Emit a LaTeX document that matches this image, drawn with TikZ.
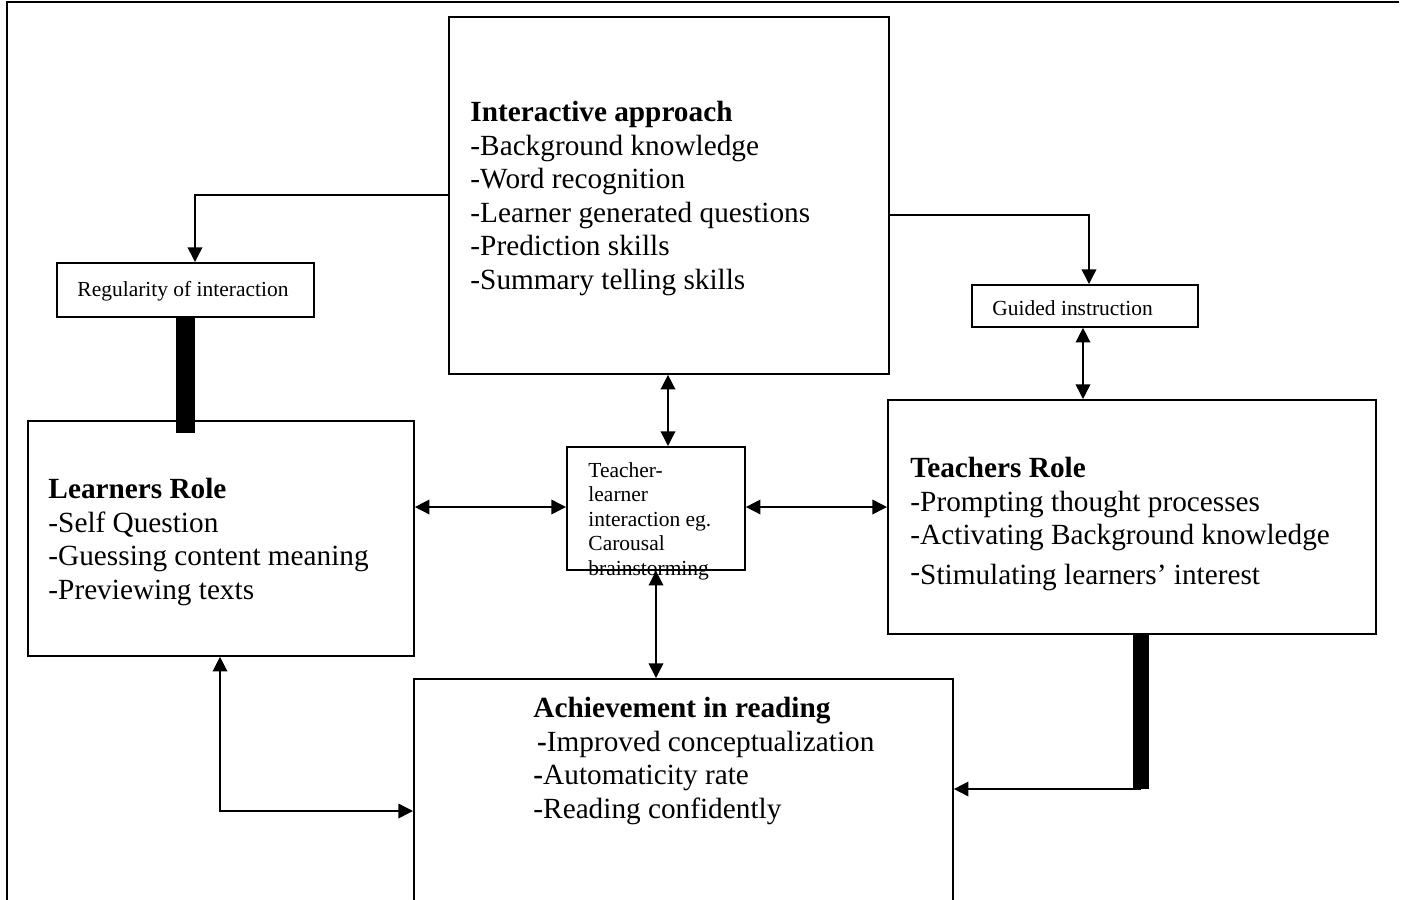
\documentclass[tikz,border=0pt]{standalone}
\usepackage{fontspec}
\setmainfont{Liberation Serif}
\usetikzlibrary{arrows.meta}

\newcommand{\pxu}{0.41pt}

\tikzset{
  box/.style={draw, line width=0.75pt, inner sep=0pt, anchor=north west},
  txt/.style={anchor=base west, align=left, inner sep=0pt, font=\fontsize{12}{13.7}\selectfont},
  smalltxt/.style={anchor=base west, align=left, inner sep=0pt, font=\fontsize{8.8}{10}\selectfont},
  link/.style={line width=0.6pt, -{Triangle[length=6pt,width=6pt]}},
  dlink/.style={line width=0.6pt, {Triangle[length=6pt,width=6pt]}-{Triangle[length=6pt,width=6pt]}},
  bar/.style={line width=7.8pt},
}

\begin{document}
\begin{tikzpicture}[x=0.41pt,y=0.41pt,yscale=-1]
\useasboundingbox (0,0) rectangle (1410,899);

%frame
\draw[line width=0.55pt] (7,910) -- (7,2) -- (1399,2);

%boxes
\node[box, minimum width=440*\pxu, minimum height=357*\pxu] (inter) at (448,16) {};
\node[box, minimum width=257*\pxu, minimum height=54*\pxu] (reg) at (56,262) {};
\node[box, minimum width=226*\pxu, minimum height=42*\pxu] (guide) at (971,284) {};
\node[box, minimum width=386*\pxu, minimum height=235*\pxu] (learn) at (27,420) {};
\node[box, minimum width=178*\pxu, minimum height=123*\pxu] (tl) at (566,446) {};
\node[box, minimum width=488*\pxu, minimum height=234*\pxu] (teach) at (887,399) {};
\node[box, minimum width=539*\pxu, minimum height=260*\pxu] (ach) at (413,678) {};

% Text Node (anchored at baseline of last line)
\node[txt] (interT) at (470,289) {\textbf{Interactive approach}\\-Background knowledge\\-Word recognition\\-Learner generated questions\\-Prediction skills\\-Summary telling skills};
% Text Node
\node[txt] (learnT) at (48,599) {\textbf{Learners Role}\\-Self Question\\-Guessing content meaning\\-Previewing texts};
% Text Node
\node[txt] (teachT) at (910,584) {\textbf{Teachers Role}\\-Prompting thought processes\\-Activating Background knowledge\\[2.5pt]\raisebox{1pt}{-}Stimulating learners' interest};
% Text Node
\node[txt] (achT) at (533,818) {\textbf{Achievement in reading}\\\hspace{1.5pt}\textbf{-}Improved conceptualization\\\textbf{-}Automaticity rate\\-Reading confidently};
% Text Node
\node[smalltxt] (regT) at (77,296) {Regularity of interaction};
% Text Node
\node[smalltxt] (guideT) at (992,315) {Guided instruction};
% Text Node
\node[smalltxt] (tlT) at (588,575) {Teacher-\\learner\\interaction eg.\\Carousal\\brainstorming};

%connectors
\draw[link] (inter.west |- 0,195) -| (reg.north -| 195,0);
\draw[link] (inter.east |- 0,215) -| (guide.north -| 1089,0);
\draw[dlink] (guide.south -| 1083,0) -- (teach.north -| 1083,0);
\draw[dlink] (inter.south -| 668,0) -- (tl.north -| 668,0);
\draw[dlink] (learn.east |- 0,507) -- (tl.west |- 0,507);
\draw[dlink] (tl.east |- 0,507) -- (teach.west |- 0,507);
\draw[dlink] (tl.south -| 656,0) -- (ach.north -| 656,0);
\draw[dlink] (learn.south -| 220,0) |- (ach.west |- 0,811);

%bars
\coordinate (tb) at (1141,789);
\draw[bar] (reg.south) -- ++(0,115);
\draw[bar, line width=6.5pt] (teach.south -| tb) -- (tb);
\draw[link] (tb) -- (ach.east |- tb);

\end{tikzpicture}
\end{document}
